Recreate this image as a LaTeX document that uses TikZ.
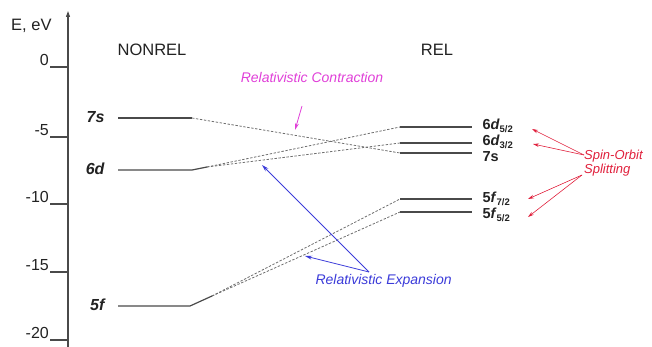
\documentclass[tikz,border=0pt]{standalone}
\usepackage{fontspec}
\setmainfont{Liberation Sans}
\usetikzlibrary{arrows.meta}
\definecolor{magc}{HTML}{E040D8}
\definecolor{bluc}{HTML}{3B3BD9}
\definecolor{redc}{HTML}{E0203C}
\definecolor{linec}{HTML}{4A4A4A}
\definecolor{txtc}{HTML}{222222}
\newcommand\lvsub[1]{\raisebox{-2.5pt}{\fontsize{9.5}{10}\selectfont #1}}
\begin{document}
\begin{tikzpicture}[x=1pt,y=-1pt,
  levelline/.style={draw=linec, line width=1.2pt},
  conn/.style={draw=linec!80, line width=0.8pt, dash pattern=on 2.4pt off 1.6pt},
  leftlab/.style={anchor=east, text=txtc, font=\fontsize{16}{18}\selectfont\bfseries\itshape},
  rightlab/.style={anchor=west, text=txtc, font=\fontsize{14.5}{16}\selectfont\bfseries},
  ticklab/.style={anchor=south east, inner sep=1pt, text=txtc, font=\fontsize{16}{18}\selectfont},
  headlab/.style={text=txtc, font=\fontsize{16.5}{19}\selectfont},
  redarrow/.style={draw=redc, line width=0.6pt, -{Stealth[length=6pt,width=3.5pt]}},
  bluarrow/.style={draw=bluc, line width=0.8pt, -{Stealth[length=7pt,width=4pt]}},
  magarrow/.style={draw=magc, line width=0.8pt, -{Stealth[length=7pt,width=4pt]}}
]
\useasboundingbox (0,0) rectangle (652,347);
% axis
\coordinate (axb) at (68,347);
\coordinate (axt) at (68,11);
\draw[draw=linec, line width=1.1pt, -{Triangle[length=6pt,width=4pt]}] (axb) -- (axt);
\node[anchor=base west, inner sep=0pt, text=txtc, font=\fontsize{16.5}{19}\selectfont] (elab) at (11,31) {E, eV};
\foreach \v/\yy in {0/67,-5/137,-10/204,-15/272,-20/340}{
  \coordinate (tk\v) at (50,\yy);
  \coordinate (ta\v) at (68,\yy);
  \draw[draw=linec, line width=1.1pt] (tk\v) -- (ta\v);
  \node[ticklab] (tl\v) at (tk\v) {\v};
}
% headers
\node[headlab] (nonrel) at (152,50) {NONREL};
\node[headlab] (rel) at (437,50) {REL};
% nonrel levels
\coordinate (s7a) at (118,118); \coordinate (s7b) at (192,118);
\coordinate (d6a) at (118,170); \coordinate (d6b) at (192,170); \coordinate (d6c) at (207,167);
\coordinate (f5a) at (118,306); \coordinate (f5b) at (190,306); \coordinate (f5c) at (212,296);
\draw[levelline] (s7a) -- (s7b);
\draw[levelline] (d6a) -- (d6b) -- (d6c);
\draw[levelline] (f5a) -- (f5b) -- (f5c);
\node[leftlab] (l7s) at (108,117) {7\textit{s}};
\node[leftlab] (l6d) at (108,169) {6\textit{d}};
\node[leftlab] (l5f) at (108,305) {5\textit{f}};
% rel levels
\foreach \n/\yy in {rd52/127,rd32/143,rs7/153,rf72/199,rf52/212}{
  \coordinate (\n a) at (400,\yy);
  \coordinate (\n b) at (472,\yy);
  \draw[levelline] (\n a) -- (\n b);
}
\node[rightlab] (t65) at (479,126) {6\textit{d}\lvsub{5/2}};
\node[rightlab] (t63) at (479,142) {6\textit{d}\lvsub{3/2}};
\node[rightlab] (t7s) at (479,157) {7s};
\node[rightlab] (t57) at (479,199) {5\textit{f}\lvsub{7/2}};
\node[rightlab] (t55) at (479,215) {5\textit{f}\lvsub{5/2}};
% dashed connectors
\draw[conn] (s7b) -- (rs7a);
\draw[conn] (d6c) -- (rd52a);
\draw[conn] (d6c) -- (rd32a);
\draw[conn] (f5c) -- (rf72a);
\draw[conn] (f5c) -- (rf52a);
% relativistic contraction
\node[text=magc, font=\fontsize{14}{16}\selectfont\itshape] (rc) at (312,77) {Relativistic Contraction};
\coordinate (mc1) at (302,106); \coordinate (mc2) at (295,130);
\draw[magarrow] (mc1) -- (mc2);
% relativistic expansion
\node[anchor=west, text=bluc, font=\fontsize{14}{16}\selectfont\itshape] (re) at (312,281) {Relativistic Expansion};
\coordinate (be0) at (369,272); \coordinate (be1) at (262,165); \coordinate (be2) at (305,256);
\draw[bluarrow] (be0) -- (be1);
\draw[bluarrow] (be0) -- (be2);
% spin-orbit splitting
\node[anchor=west, text=redc, font=\fontsize{13}{15}\selectfont\itshape, align=left, inner sep=0pt] (so) at (584,163) {Spin-Orbit\\[-1pt]Splitting};
\coordinate (so1) at (584,155); \coordinate (so2) at (582,175);
\draw[redarrow] (so1) -- (532,129);
\draw[redarrow] (so1) -- (533,144);
\draw[redarrow] (so2) -- (528,199);
\draw[redarrow] (so2) -- (528,217);
\end{tikzpicture}
\end{document}
